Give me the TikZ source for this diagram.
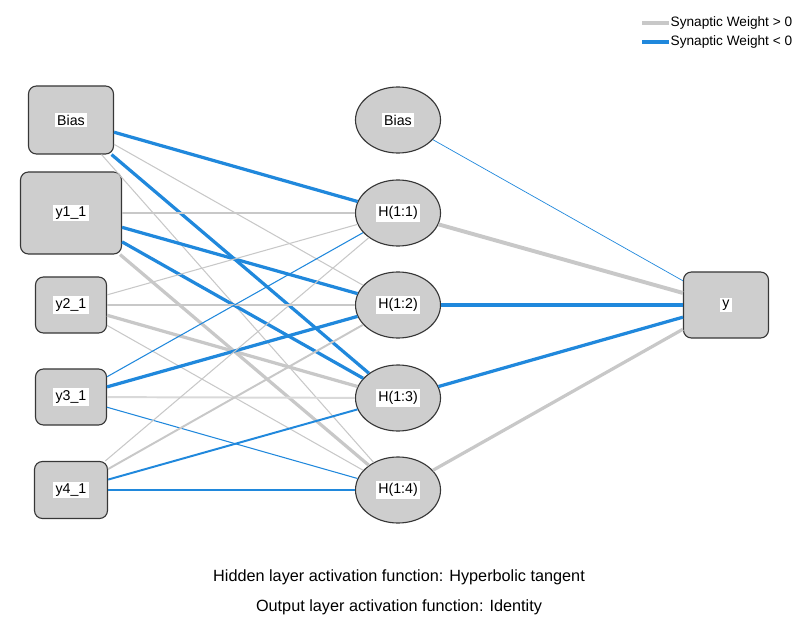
\documentclass[tikz,border=0pt]{standalone}
\usepackage{fontspec}
\setmainfont{Liberation Sans}
\usepackage{tikz}
\usetikzlibrary{shapes.geometric}
\newcommand{\lbl}[1]{{\setlength{\fboxsep}{1.5pt}\colorbox{white}{#1}}}
\definecolor{wpos}{RGB}{200,200,200}
\definecolor{wneg}{RGB}{32,136,220}
\definecolor{nfill}{RGB}{206,206,206}
\definecolor{nline}{RGB}{55,55,55}

\begin{document}
\begin{tikzpicture}[x=0.025cm,y=0.025cm,
    unit/.style={draw=nline,fill=nfill,line width=0.8pt,inner sep=0pt,
        font={\fontsize{10.1}{12}\selectfont}},
    inlayer/.style={unit,rectangle,rounded corners=0.2cm},
    hidlayer/.style={unit,ellipse,minimum width=2.125cm,minimum height=1.65cm},
    outlayer/.style={inlayer,minimum width=2.125cm,minimum height=1.65cm},
    caption/.style={font={\fontsize{11.55}{13}\selectfont}},
    legend/.style={font={\fontsize{9.7}{11}\selectfont},anchor=west,inner sep=1pt},
    poswt/.style={draw=wpos},
    negwt/.style={draw=wneg},
    w0/.style={line width=0.5pt},
    w1/.style={line width=0.75pt},
    w2/.style={line width=1.4pt},
    w3/.style={line width=2.3pt},
    w4/.style={line width=2.8pt},
    ]
    \useasboundingbox (0,0) rectangle (794,620);
    % Input layer
    \node[inlayer,minimum width=2.125cm,minimum height=1.7cm] (inbias) at (71,500) {\lbl{Bias}};
    \node[inlayer,minimum width=2.525cm,minimum height=2.05cm] (y1) at (71,407) {\lbl{y1\_1}};
    \node[inlayer,minimum width=1.775cm,minimum height=1.4cm] (y2) at (71,315) {\lbl{y2\_1}};
    \node[inlayer,minimum width=1.775cm,minimum height=1.4cm] (y3) at (71,223) {\lbl{y3\_1}};
    \node[inlayer,minimum width=1.825cm,minimum height=1.425cm] (y4) at (71,130) {\lbl{y4\_1}};
    % Hidden layer
    \node[hidlayer] (hbias) at (398,500) {\lbl{Bias}};
    \node[hidlayer] (h1) at (398,407) {\lbl{H(1:1)}};
    \node[hidlayer] (h2) at (398,315) {\lbl{H(1:2)}};
    \node[hidlayer] (h3) at (398,222) {\lbl{H(1:3)}};
    \node[hidlayer] (h4) at (398,130) {\lbl{H(1:4)}};
    % Output layer
    \node[outlayer] (out) at (726,315) {\lbl{y}};

    % Input to hidden weights
    \draw[negwt,w3] (inbias) -- (h1);
    \draw[poswt,w1] (inbias) -- (h2);
    \draw[negwt,w3] (inbias) -- (h3);
    \draw[poswt,w1] (inbias) -- (h4);
    \draw[poswt,w2] (y1) -- (h1);
    \draw[negwt,w3] (y1) -- (h2);
    \draw[negwt,w3] (y1) -- (h3);
    \draw[poswt,w3] (y1) -- (h4);
    \draw[poswt,w1] (y2) -- (h1);
    \draw[poswt,w2] (y2) -- (h2);
    \draw[poswt,w3] (y2) -- (h3);
    \draw[poswt,w1] (y2) -- (h4);
    \draw[negwt,w1] (y3) -- (h1);
    \draw[negwt,w3] (y3) -- (h2);
    \draw[poswt,w2,draw=wpos!70] (y3) -- (h3);
    \draw[negwt,w1] (y3) -- (h4);
    \draw[poswt,w1] (y4) -- (h1);
    \draw[poswt,w2] (y4) -- (h2);
    \draw[negwt,w2] (y4) -- (h3);
    \draw[negwt,w2] (y4) -- (h4);
    % Hidden to output weights
    \draw[negwt,w0] (hbias) -- (out);
    \draw[poswt,w4] (h1) -- (out);
    \draw[negwt,w3] (h2) -- (out);
    \draw[negwt,w3] (h3) -- (out);
    \draw[poswt,w3] (h4) -- (out);

    % Legend
    \node[legend] (lgpos) at (669,597) {Synaptic Weight > 0};
    \node[legend] (lgneg) at (669,578) {Synaptic Weight < 0};
    \coordinate (swpos) at (642,597);
    \coordinate (swneg) at (642,578);
    \draw[poswt,w4] (swpos) -- (lgpos.west);
    \draw[negwt,w4] (swneg) -- (lgneg.west);

    % Activation functions
    \node[caption] (hidfn) at (399,43) {Hidden layer activation function: Hyperbolic tangent};
    \node[caption] (outfn) at (399,13) {Output layer activation function: Identity};
\end{tikzpicture}
\end{document}
